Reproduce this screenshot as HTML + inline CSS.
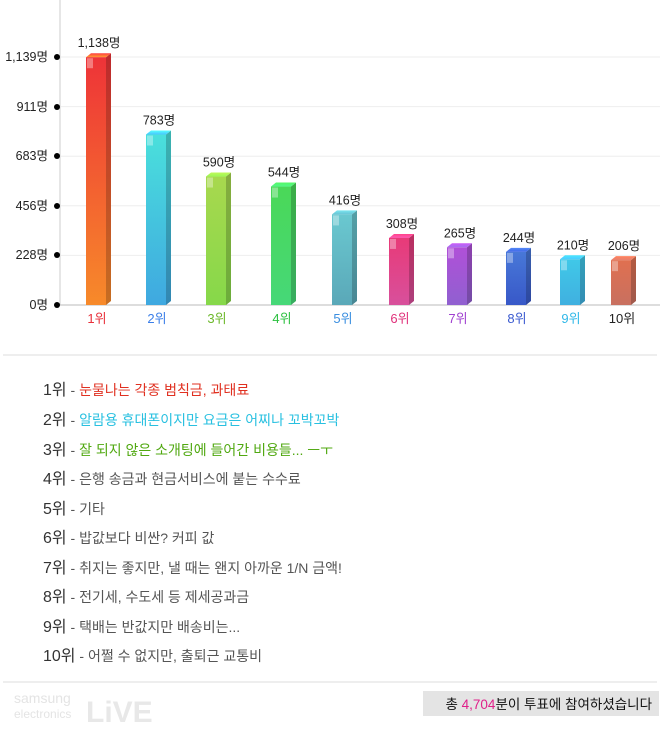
<!DOCTYPE html><html><head><meta charset="utf-8"><style>
body{margin:0;background:#fff;width:660px;height:741px;overflow:hidden;font-family:"Liberation Sans","Noto Sans CJK KR",sans-serif}
.it{position:absolute;left:43px;font-size:14px;color:#555;white-space:nowrap}
.it b{font-weight:normal;font-size:16px;color:#333}
</style></head><body>
<svg width="660" height="741" style="position:absolute;left:0;top:0" font-family="Liberation Sans, Noto Sans CJK KR, sans-serif">
<defs>
<linearGradient id="g1" x1="0" y1="0" x2="0" y2="1"><stop offset="0" stop-color="#ee3338"/><stop offset="1" stop-color="#f78a2a"/></linearGradient>
<linearGradient id="g2" x1="0" y1="0" x2="0" y2="1"><stop offset="0" stop-color="#4ae0dc"/><stop offset="1" stop-color="#3fa8e0"/></linearGradient>
<linearGradient id="g3" x1="0" y1="0" x2="0" y2="1"><stop offset="0" stop-color="#a8d84e"/><stop offset="1" stop-color="#86d84a"/></linearGradient>
<linearGradient id="g4" x1="0" y1="0" x2="0" y2="1"><stop offset="0" stop-color="#4ad858"/><stop offset="1" stop-color="#46d878"/></linearGradient>
<linearGradient id="g5" x1="0" y1="0" x2="0" y2="1"><stop offset="0" stop-color="#6ac8d0"/><stop offset="1" stop-color="#5aa8b8"/></linearGradient>
<linearGradient id="g6" x1="0" y1="0" x2="0" y2="1"><stop offset="0" stop-color="#e83a78"/><stop offset="1" stop-color="#d8509c"/></linearGradient>
<linearGradient id="g7" x1="0" y1="0" x2="0" y2="1"><stop offset="0" stop-color="#b050d8"/><stop offset="1" stop-color="#9060d0"/></linearGradient>
<linearGradient id="g8" x1="0" y1="0" x2="0" y2="1"><stop offset="0" stop-color="#4878d8"/><stop offset="1" stop-color="#3858c8"/></linearGradient>
<linearGradient id="g9" x1="0" y1="0" x2="0" y2="1"><stop offset="0" stop-color="#40c8e8"/><stop offset="1" stop-color="#40b0e0"/></linearGradient>
<linearGradient id="g10" x1="0" y1="0" x2="0" y2="1"><stop offset="0" stop-color="#e07050"/><stop offset="1" stop-color="#c87060"/></linearGradient>
</defs>
<line x1="60" y1="0" x2="60" y2="305" stroke="#ccc"/>
<g stroke="#eee">
<line x1="61" y1="57" x2="660" y2="57"/><line x1="61" y1="106.6" x2="660" y2="106.6"/><line x1="61" y1="156.2" x2="660" y2="156.2"/><line x1="61" y1="205.8" x2="660" y2="205.8"/><line x1="61" y1="255.4" x2="660" y2="255.4"/>
</g>
<line x1="60" y1="305" x2="660" y2="305" stroke="#bbb"/>
<g font-size="12.5" fill="#222" text-anchor="end">
<text x="48" y="61">1,139명</text><text x="48" y="111">911명</text><text x="48" y="160">683명</text><text x="48" y="210">456명</text><text x="48" y="259">228명</text><text x="48" y="309">0명</text>
</g>
<g fill="#000"><circle cx="57" cy="57" r="3"/><circle cx="57" cy="107" r="3"/><circle cx="57" cy="156" r="3"/><circle cx="57" cy="206" r="3"/><circle cx="57" cy="255" r="3"/><circle cx="57" cy="305" r="3"/></g>
<g id="bars"></g>
<line x1="3" y1="355" x2="657" y2="355" stroke="#ddd"/>
<line x1="3" y1="682" x2="657" y2="682" stroke="#ddd"/>
<rect x="423" y="691" width="236" height="25" fill="#e4e4e4"/>
<text x="652" y="709" text-anchor="end" font-size="13.5" fill="#111">총 <tspan fill="#e0208a">4,704</tspan>분이 투표에 참여하셨습니다</text>
<text x="14" y="703" font-size="14" fill="#e4e4e4">samsung</text>
<text x="14" y="718" font-size="12" fill="#e4e4e4">electronics</text>
<text x="86" y="722" font-size="30" font-weight="bold" fill="#e8e8e8">LiVE</text>
</svg>
<script>
var v=[1138,783,590,544,416,308,265,244,210,206],c=[97,157,217,282,343,400,458,517,571,622];
var lc=["#e8303a","#3a7ee8","#6cb82a","#2cc040","#3a8ee0","#e0307a","#a040d0","#3a5ad0","#30b8e8","#222"];
var s="";
for(var i=0;i<10;i++){var t=305-v[i]*248/1139,x=c[i]-11,g="url(#g"+(i+1)+")";
s+='<polygon points="'+(x+20)+','+t+' '+(x+25)+','+(t-4)+' '+(x+25)+',301 '+(x+20)+',305" fill="'+g+'" style="filter:brightness(0.8)"/>';
s+='<polygon points="'+x+','+t+' '+(x+5)+','+(t-4)+' '+(x+25)+','+(t-4)+' '+(x+20)+','+t+'" fill="'+g+'" style="filter:brightness(1.15)"/>';
s+='<rect x="'+x+'" y="'+t+'" width="20" height="'+(305-t)+'" fill="'+g+'"/>';
s+='<rect x="'+(x+1)+'" y="'+(t+1)+'" width="6" height="10" fill="#fff" opacity="0.35"/>';
s+='<text x="'+(c[i]+2)+'" y="'+(t-10)+'" font-size="12.5" fill="#222" text-anchor="middle">'+v[i].toLocaleString("en-US")+'명</text>';
s+='<text x="'+c[i]+'" y="323" font-size="13" fill="'+lc[i]+'" text-anchor="middle">'+(i+1)+'위</text>';}
document.getElementById("bars").innerHTML=s;
</script>
<div class="it" style="top:376px"><b>1위</b> - <span style="color:#e03020">눈물나는 각종 범칙금, 과태료</span></div>
<div class="it" style="top:406px"><b>2위</b> - <span style="color:#28c0e0">알람용 휴대폰이지만 요금은 어찌나 꼬박꼬박</span></div>
<div class="it" style="top:436px"><b>3위</b> - <span style="color:#50a810">잘 되지 않은 소개팅에 들어간 비용들... ㅡㅜ</span></div>
<div class="it" style="top:465px"><b>4위</b> - 은행 송금과 현금서비스에 붙는 수수료</div>
<div class="it" style="top:495px"><b>5위</b> - 기타</div>
<div class="it" style="top:524px"><b>6위</b> - 밥값보다 비싼? 커피 값</div>
<div class="it" style="top:554px"><b>7위</b> - 취지는 좋지만, 낼 때는 왠지 아까운 1/N 금액!</div>
<div class="it" style="top:583px"><b>8위</b> - 전기세, 수도세 등 제세공과금</div>
<div class="it" style="top:613px"><b>9위</b> - 택배는 반값지만 배송비는...</div>
<div class="it" style="top:642px"><b>10위</b> - 어쩔 수 없지만, 출퇴근 교통비</div>
</body></html>
